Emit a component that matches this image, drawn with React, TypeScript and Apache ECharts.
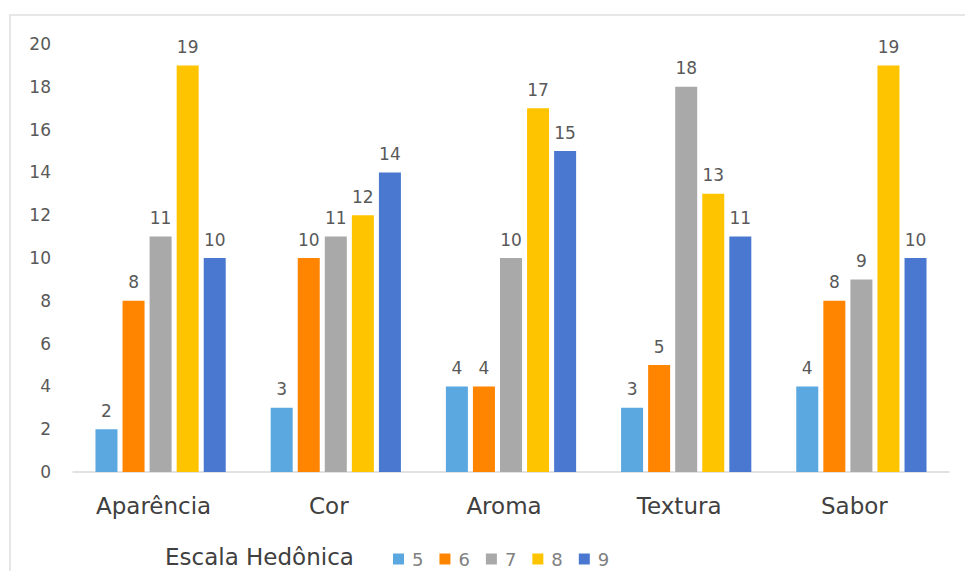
import React, { useEffect, useRef } from "react";
import * as echarts from "echarts";

const categories = ["Aparência", "Cor", "Aroma", "Textura", "Sabor"];
const seriesNames = ["5", "6", "7", "8", "9"];
const s5 = [2, 3, 4, 3, 4];
const s6 = [8, 10, 4, 5, 8];
const s7 = [11, 11, 10, 18, 9];
const s8 = [19, 12, 17, 13, 19];
const s9 = [10, 14, 15, 11, 10];
const colors = ["#5BA7E0", "#FF8400", "#A9A9A9", "#FFC400", "#4A78D0"];
const legendTitle = "Escala Hedônica";

export default function App() {
  const ref = useRef<HTMLDivElement>(null);
  useEffect(() => {
    const chart = echarts.init(ref.current!, undefined, { renderer: "svg" });
    const data = [s5, s6, s7, s8, s9];
    const font = "'DejaVu Sans', 'Open Sans', sans-serif";
    chart.setOption({
      animation: false,
      backgroundColor: "#ffffff",
      color: colors,
      textStyle: { fontFamily: font },
      grid: { left: 73, right: 16, top: 44, bottom: 99, containLabel: false },
      graphic: [
        {
          type: "rect",
          shape: { x: 10, y: 15, width: 970, height: 600 },
          style: { fill: "none", stroke: "#e0e0e0", lineWidth: 1.5 },
          silent: true,
        },
        {
          type: "text",
          left: 165,
          top: 545,
          style: { text: legendTitle, fontSize: 23, fill: "#404040", fontFamily: font },
        },
      ],
      legend: {
        data: seriesNames,
        left: 388,
        top: 545,
        itemWidth: 11,
        itemHeight: 11,
        itemGap: 16,
        icon: "rect",
        textStyle: { fontSize: 18, color: "#808080", fontFamily: font, padding: [0, 0, 0, 3] },
      },
      xAxis: {
        type: "category",
        data: categories,
        axisLine: { lineStyle: { color: "#d9d9d9", width: 1.5 } },
        axisTick: { show: false },
        axisLabel: { fontSize: 23, color: "#404040", margin: 22, fontFamily: font, padding: [0, 14, 0, 0] },
      },
      yAxis: {
        type: "value",
        min: 0,
        max: 20,
        interval: 2,
        splitLine: { show: false },
        axisLine: { show: false },
        axisTick: { show: false },
        axisLabel: { fontSize: 17, color: "#595959", margin: 22, fontFamily: font, align: "right" },
      },
      series: seriesNames.map((n, i) => ({
        name: n,
        type: "bar",
        data: data[i],
        barWidth: 22,
        barGap: "23%",
        label: {
          show: true,
          position: "top",
          distance: 10,
          fontSize: 17,
          color: "#595959",
          fontFamily: font,
        },
      })),
    });
    return () => chart.dispose();
  }, []);
  return (
    <div
      ref={ref}
      style={{ position: "fixed", left: 0, top: 0, width: 965, height: 571 }}
    />
  );
}
